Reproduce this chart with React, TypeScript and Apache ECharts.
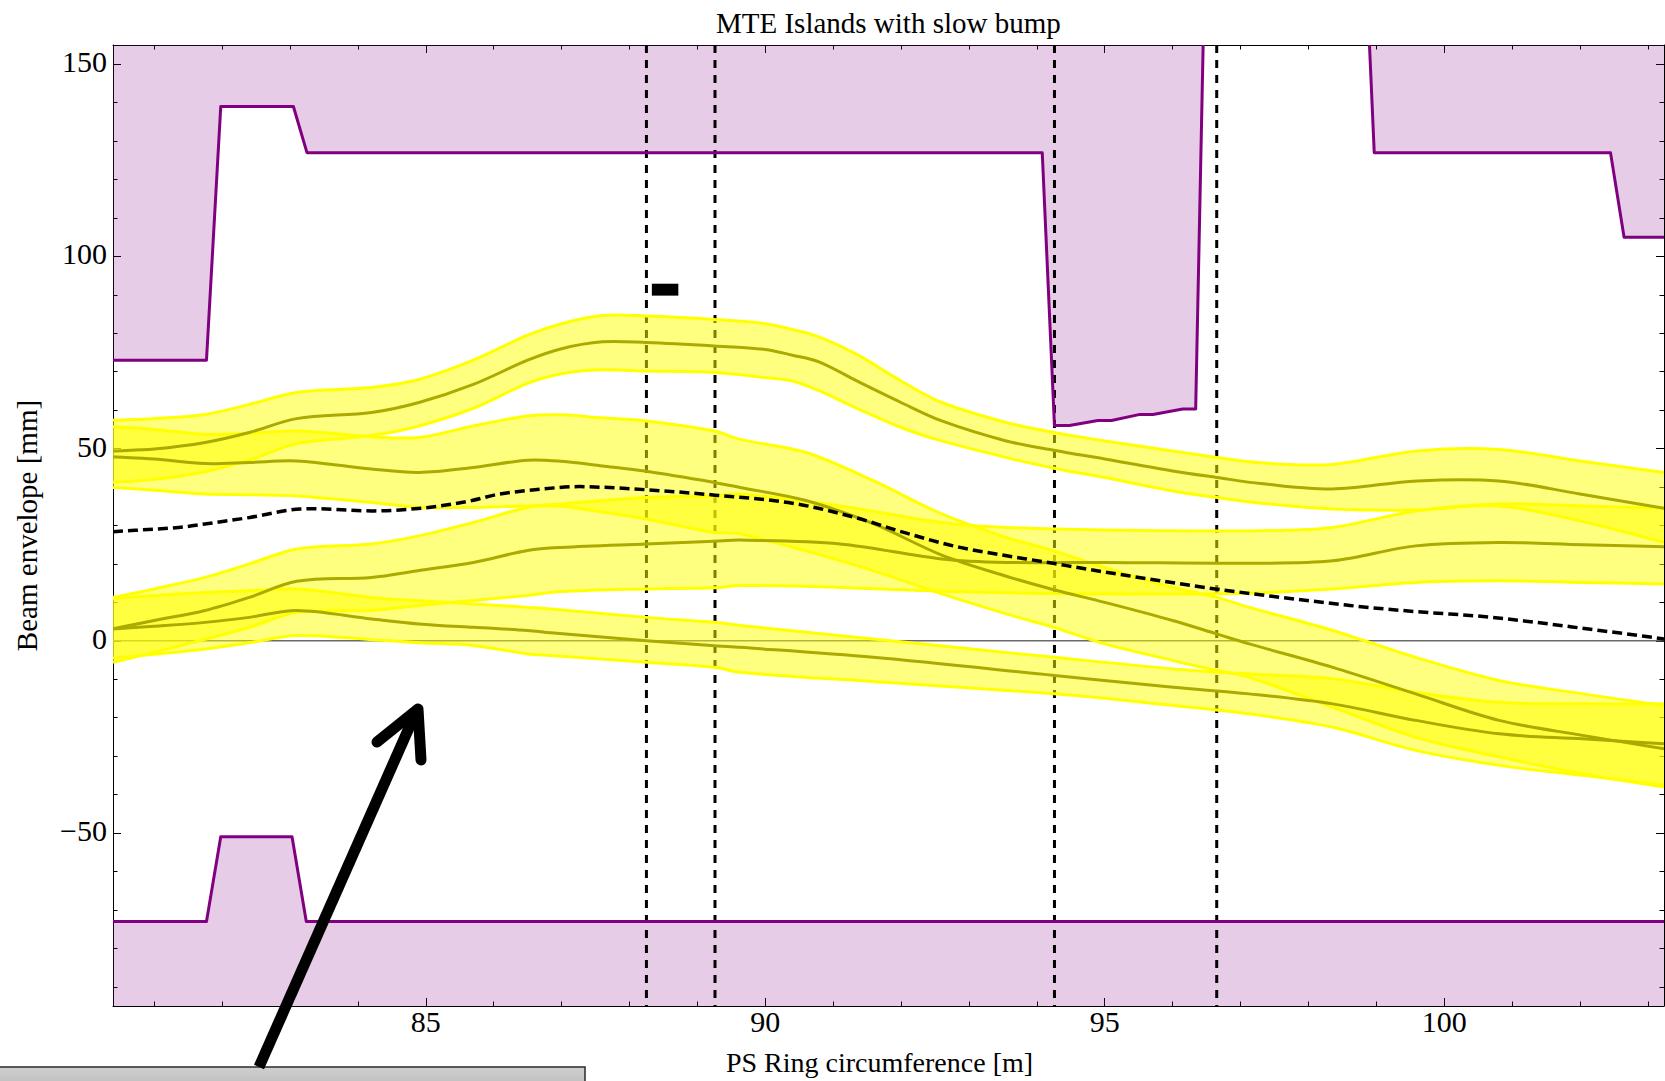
import React, { useEffect, useRef } from "react";
import * as echarts from "echarts";

// ---------- axes ----------
const X_MIN = 80.393;
const X_MAX = 103.238;
const Y_MIN = -95;
const Y_MAX = 155;
const xMajorTicks = [85, 90, 95, 100];
const xMinorTicks = [81, 82, 83, 84, 86, 87, 88, 89, 91, 92, 93, 94, 96, 97, 98, 99, 101, 102, 103];
const yMajorTicks = [-50, 0, 50, 100, 150];
const yMinorTicks = [-90, -80, -70, -60, -40, -30, -20, -10, 10, 20, 30, 40, 60, 70, 80, 90, 110, 120, 130, 140];

const titleText = "MTE Islands with slow bump";
const xName = "PS Ring circumference [m]";
const yName = "Beam envelope [mm]";

// ---------- aperture (purple) ----------
const apUpper1X = [80.393, 81.77, 81.98, 83.05, 83.25, 94.08, 94.26, 94.48, 94.9, 95.1, 95.52, 95.71, 96.15, 96.34, 96.45];
const apUpper1Y = [73, 73, 139, 139, 127, 127, 56, 56, 57.3, 57.3, 58.9, 58.9, 60.3, 60.3, 155];
const apUpper2X = [98.9, 98.97, 102.45, 102.65, 103.238];
const apUpper2Y = [155, 127, 127, 105, 105];
const apLowerX = [80.393, 81.77, 81.98, 83.03, 83.24, 103.238];
const apLowerY = [-73, -73, -51, -51, -73, -73];

// ---------- vertical dashed element markers ----------
const elementX = [88.25, 89.26, 94.26, 96.65];

// small black marker
const markerX = [88.33, 88.72];
const markerY = [89.8, 92.9];

// ---------- closed orbit (dashed) ----------
const orbitX = [80.393, 81.36, 81.75, 82.41, 83.15, 84.25, 85.04, 85.68, 86.09, 86.97, 87.35, 88.25, 89.26, 90.4, 91.3, 92.08, 92.87, 94.26, 95.07, 96.63, 98.61, 99.58, 100.71, 102.29, 103.238];
const orbitY = [28.4, 29.5, 30.4, 32.1, 34.3, 33.8, 34.7, 36.5, 38.2, 39.9, 40.1, 39.3, 37.9, 35.8, 32.2, 28.0, 24.3, 20.1, 17.7, 13.5, 9.2, 7.6, 6.1, 2.7, 0.5];

// ---------- beamlets ----------
const bandAX = [80.393, 81.0, 81.75, 82.4, 83.1, 84.2, 84.9, 85.7, 86.5, 87.0, 87.6, 88.25, 89.25, 90.0, 90.4, 90.8, 91.35, 92.0, 92.6, 93.55, 94.25, 95.0, 96.0, 96.65, 97.3, 98.35, 99.6, 100.8, 102.0, 103.238];
const bandALower = [41.2, 42.0, 44.0, 47.0, 51.3, 53.4, 55.9, 60.5, 67.0, 69.5, 70.5, 70.2, 69.8, 68.5, 67.6, 65.0, 60.5, 55.5, 52.0, 47.7, 44.9, 42.5, 39.0, 37.3, 35.8, 34.3, 34.0, 35.1, 31.2, 25.6];
const bandACenter = [49.4, 49.9, 51.6, 54.2, 57.8, 59.4, 62.0, 66.7, 73.0, 76.0, 77.8, 77.6, 76.7, 75.8, 74.3, 72.5, 67.6, 62.0, 57.2, 52.0, 49.6, 47.3, 44.2, 42.5, 40.9, 39.5, 41.6, 41.6, 38.2, 34.5];
const bandAUpper = [57.4, 57.8, 58.9, 61.5, 64.6, 65.9, 68.0, 73.0, 79.5, 82.5, 84.6, 84.5, 83.6, 82.5, 81.0, 79.0, 74.5, 67.6, 62.0, 56.8, 54.2, 52.0, 49.4, 47.7, 46.3, 45.9, 49.4, 49.8, 46.8, 43.8];

const bandBX = [80.393, 81.0, 81.75, 82.4, 83.1, 84.2, 84.9, 85.7, 86.5, 87.0, 87.6, 88.25, 89.25, 89.63, 90.6, 91.6, 92.6, 93.55, 94.25, 95.0, 96.0, 96.65, 97.13, 98.36, 99.58, 100.81, 102.04, 103.238];
const bandBLower = [39.9, 39.2, 38.2, 38.0, 37.7, 36.0, 34.7, 34.7, 35.1, 35.0, 33.5, 31.7, 28.2, 27.8, 23.4, 18.2, 12.2, 7.0, 3.5, -0.8, -5.1, -7.7, -9.5, -17.3, -25.1, -30.2, -34.6, -38.0];
const bandBCenter = [47.9, 47.3, 46.1, 46.4, 46.8, 44.7, 43.8, 45.1, 47.0, 46.7, 45.5, 44.1, 41.2, 39.9, 36.5, 30.4, 22.3, 16.8, 13.3, 10.0, 5.3, 1.8, -0.8, -6.9, -13.8, -20.7, -24.6, -28.1];
const bandBUpper = [55.7, 55.0, 53.7, 54.0, 54.6, 53.1, 52.9, 55.9, 58.5, 58.8, 58.0, 57.2, 54.6, 52.4, 49.0, 41.6, 33.0, 26.9, 23.4, 19.1, 13.9, 11.3, 8.7, 2.7, -4.3, -10.3, -13.8, -16.8];

const bandCX = [80.393, 81.0, 81.75, 82.4, 83.1, 84.2, 84.9, 85.7, 86.5, 87.0, 88.25, 89.25, 89.63, 91.1, 92.6, 93.55, 95.0, 97.13, 98.36, 99.58, 100.81, 102.04, 103.238];
const bandCLower = [-5.6, -3.0, 0.4, 3.5, 7.4, 7.9, 9.2, 10.5, 11.8, 12.8, 13.5, 13.8, 14.4, 13.9, 12.9, 12.5, 12.2, 12.4, 13.5, 15.2, 15.6, 15.2, 14.8];
const bandCCenter = [3.1, 5.3, 7.9, 11.3, 15.5, 16.5, 18.3, 20.4, 23.5, 24.3, 25.2, 25.9, 26.2, 25.2, 21.3, 20.4, 20.4, 20.2, 20.8, 24.7, 25.6, 25.0, 24.5];
const bandCUpper = [11.3, 13.5, 16.5, 20.0, 23.9, 25.2, 27.3, 30.8, 34.7, 35.6, 37.3, 37.7, 38.2, 35.1, 30.8, 29.5, 28.8, 28.6, 29.5, 33.8, 35.6, 35.1, 34.5];

const bandDX = [80.393, 81.0, 81.75, 82.4, 83.1, 84.2, 84.9, 85.7, 86.5, 86.84, 88.25, 89.25, 89.63, 91.59, 94.26, 96.01, 97.13, 98.36, 99.58, 100.81, 102.04, 103.238];
const bandDLower = [-4.5, -3.5, -2.1, -0.5, 1.4, 0.3, -0.5, -1.2, -3.4, -3.8, -5.6, -6.9, -8.2, -10.6, -13.8, -16.8, -19.0, -22.5, -28.5, -32.4, -35.0, -37.6];
const bandDCenter = [3.1, 3.8, 4.8, 6.1, 7.9, 5.7, 4.4, 3.5, 2.7, 2.1, 0.0, -1.3, -1.7, -4.3, -9.0, -12.1, -13.8, -16.4, -20.7, -24.2, -25.5, -26.8];
const bandDUpper = [11.0, 11.8, 12.6, 13.0, 13.5, 11.3, 10.4, 9.6, 8.7, 8.3, 6.1, 4.8, 4.0, 0.5, -4.3, -7.3, -8.6, -9.9, -13.4, -16.0, -16.4, -16.4];

// ---------- styles ----------
const FONT = "'Liberation Serif', 'Times New Roman', serif";
const PURPLE = "#800080";
const PURPLE_FILL = "rgba(128,0,128,0.2)";
const YELLOW = "#ffff00";
const YELLOW_FILL = "rgba(255,255,0,0.5)";
const OLIVE = "#aaaa00";

// Smooth (cubic Hermite, x-monotone) path through pixel points.
function smoothPath(pts: number[][], start: "M" | "L"): string {
  const n = pts.length;
  const slope = (i: number) => {
    const a = pts[Math.max(0, i - 1)];
    const b = pts[Math.min(n - 1, i + 1)];
    const dx = b[0] - a[0];
    return dx === 0 ? 0 : (b[1] - a[1]) / dx;
  };
  let d = `${start}${pts[0][0]},${pts[0][1]}`;
  for (let i = 0; i < n - 1; i++) {
    const p = pts[i];
    const q = pts[i + 1];
    const h = q[0] - p[0];
    const m0 = slope(i);
    const m1 = slope(i + 1);
    d += ` C${p[0] + h / 3},${p[1] + (m0 * h) / 3} ${q[0] - h / 3},${q[1] - (m1 * h) / 3} ${q[0]},${q[1]}`;
  }
  return d;
}

function straightPath(pts: number[][], start: "M" | "L"): string {
  return pts.map((p, i) => `${i === 0 ? start : "L"}${p[0]},${p[1]}`).join(" ");
}

function fillBetween(xs: number[], lower: number[], upper: number[], color: string, smooth: boolean) {
  return {
    type: "custom",
    silent: true,
    clip: true,
    data: [[xs[0], lower[0]]],
    renderItem: (_p: any, api: any) => {
      const up = xs.map((x, i) => api.coord([x, upper[i]]));
      const lo = xs.map((x, i) => api.coord([x, lower[i]])).reverse();
      const mk = smooth ? smoothPath : straightPath;
      const d = mk(up, "M") + " " + mk(lo, "L") + " Z";
      return { type: "path", shape: { pathData: d }, style: { fill: color, stroke: null } };
    },
  };
}

function curve(xs: number[], ys: number[], color: string, width: number, smooth: boolean, dash?: number[]) {
  return {
    type: "custom",
    silent: true,
    clip: true,
    data: [[xs[0], ys[0]]],
    renderItem: (_p: any, api: any) => {
      const pts = xs.map((x, i) => api.coord([x, ys[i]]));
      const d = smooth ? smoothPath(pts, "M") : straightPath(pts, "M");
      return {
        type: "path",
        shape: { pathData: d },
        style: { stroke: color, lineWidth: width, fill: null, lineDash: dash || null, lineJoin: "round" },
      };
    },
  };
}

function buildOption(): any {
  const series: any[] = [];
  // purple aperture fills
  series.push(fillBetween(apUpper1X, apUpper1Y, apUpper1X.map(() => Y_MAX), PURPLE_FILL, false));
  series.push(fillBetween(apUpper2X, apUpper2Y, apUpper2X.map(() => Y_MAX), PURPLE_FILL, false));
  series.push(fillBetween(apLowerX, apLowerX.map(() => Y_MIN), apLowerY, PURPLE_FILL, false));
  // vertical dashed element lines
  series.push({
    type: "custom",
    silent: true,
    data: elementX.map((x) => [x, 0]),
    renderItem: (_p: any, api: any) => {
      const x = api.value(0);
      const a = api.coord([x, Y_MAX]);
      const b = api.coord([x, Y_MIN]);
      return {
        type: "line",
        shape: { x1: a[0], y1: a[1], x2: b[0], y2: b[1] },
        style: { stroke: "#000", lineWidth: 3, lineDash: [8, 7] },
      };
    },
  });
  // aperture outlines
  series.push(curve(apUpper1X, apUpper1Y, PURPLE, 3, false));
  series.push(curve(apUpper2X, apUpper2Y, PURPLE, 3, false));
  series.push(curve(apLowerX, apLowerY, PURPLE, 3, false));
  // zero line
  series.push({
    type: "custom",
    silent: true,
    data: [[X_MIN, 0]],
    renderItem: (_p: any, api: any) => {
      const a = api.coord([X_MIN, 0]);
      const b = api.coord([X_MAX, 0]);
      return {
        type: "line",
        shape: { x1: a[0], y1: a[1], x2: b[0], y2: b[1] },
        style: { stroke: "#6a6a6a", lineWidth: 1.5 },
      };
    },
  });
  const bands = [
    [bandAX, bandALower, bandACenter, bandAUpper],
    [bandBX, bandBLower, bandBCenter, bandBUpper],
    [bandCX, bandCLower, bandCCenter, bandCUpper],
    [bandDX, bandDLower, bandDCenter, bandDUpper],
  ];
  bands.forEach((b) => series.push(fillBetween(b[0], b[1], b[3], YELLOW_FILL, true)));
  bands.forEach((b) => {
    series.push(curve(b[0], b[1], YELLOW, 3, true));
    series.push(curve(b[0], b[3], YELLOW, 3, true));
  });
  bands.forEach((b) => series.push(curve(b[0], b[2], OLIVE, 3, true)));
  // closed orbit
  series.push(curve(orbitX, orbitY, "#000", 3.5, true, [10, 5]));
  // black marker
  series.push({
    type: "custom",
    silent: true,
    data: [[markerX[0], markerY[0]]],
    renderItem: (_p: any, api: any) => {
      const a = api.coord([markerX[0], markerY[1]]);
      const b = api.coord([markerX[1], markerY[0]]);
      return {
        type: "rect",
        shape: { x: a[0], y: a[1], width: b[0] - a[0], height: b[1] - a[1] },
        style: { fill: "#000" },
      };
    },
  });

  const labelStyle = { fontFamily: FONT, fontSize: 30, color: "#000" };
  const minus = (v: number) => (v < 0 ? "\u2212" + Math.abs(v) : String(v));
  const frameLine = { show: true, onZero: false, lineStyle: { color: "#000", width: 1 } };
  const noLine = { show: false, onZero: false };
  const baseX = { type: "value", min: X_MIN, max: X_MAX, splitLine: { show: false } };
  const baseY = { type: "value", min: Y_MIN, max: Y_MAX, splitLine: { show: false } };
  const majorTick = (vals: number[]) => ({ show: true, inside: true, length: 8, customValues: vals, lineStyle: { color: "#000", width: 1 } });
  const minorTick = (vals: number[]) => ({ show: true, inside: true, length: 4.5, customValues: vals, lineStyle: { color: "#000", width: 1 } });

  return {
    animation: false,
    backgroundColor: "#ffffff",
    title: {
      text: titleText,
      left: 716,
      top: 8,
      padding: 0,
      textStyle: { fontFamily: FONT, fontSize: 29, fontWeight: "normal", color: "#000" },
    },
    grid: { left: 113, right: 1, top: 45, bottom: 75, containLabel: false, outerBoundsMode: "none" },
    xAxis: [
      {
        ...baseX,
        position: "bottom",
        axisLine: frameLine,
        axisTick: majorTick(xMajorTicks),
        axisLabel: { ...labelStyle, show: true, customValues: xMajorTicks, margin: 0 },
        name: xName,
        nameLocation: "middle",
        nameGap: 42,
        nameTextStyle: { fontFamily: FONT, fontSize: 28, color: "#000", padding: [0, 18, 0, 0] },
      },
      { ...baseX, position: "bottom", axisLine: noLine, axisTick: minorTick(xMinorTicks), axisLabel: { show: false } },
      { ...baseX, position: "top", axisLine: frameLine, axisTick: majorTick(xMajorTicks), axisLabel: { show: false } },
      { ...baseX, position: "top", axisLine: noLine, axisTick: minorTick(xMinorTicks), axisLabel: { show: false } },
    ],
    yAxis: [
      {
        ...baseY,
        position: "left",
        axisLine: frameLine,
        axisTick: majorTick(yMajorTicks),
        axisLabel: {
          ...labelStyle,
          show: true,
          customValues: yMajorTicks,
          margin: 6,
          formatter: minus,
          verticalAlign: "bottom",
          lineHeight: 5,
        },
        name: yName,
        nameLocation: "middle",
        nameGap: 72,
        nameRotate: 90,
        nameTextStyle: { fontFamily: FONT, fontSize: 29, color: "#000" },
      },
      { ...baseY, position: "left", axisLine: noLine, axisTick: minorTick(yMinorTicks), axisLabel: { show: false } },
      { ...baseY, position: "right", axisLine: frameLine, axisTick: majorTick(yMajorTicks), axisLabel: { show: false } },
      { ...baseY, position: "right", axisLine: noLine, axisTick: minorTick(yMinorTicks), axisLabel: { show: false } },
    ],
    series,
    graphic: [
      {
        type: "rect",
        z: 100,
        shape: { x: -4, y: 1067, width: 589, height: 30 },
        style: {
          fill: new echarts.graphic.LinearGradient(0, 0, 0, 1, [
            { offset: 0, color: "#cfcfcf" },
            { offset: 1, color: "#b4b4b4" },
          ]),
          stroke: "#2a2a2a",
          lineWidth: 1.5,
        },
      },
      {
        type: "polyline",
        z: 101,
        shape: { points: [[259, 1067], [416, 712]] },
        style: { stroke: "#000", lineWidth: 11, fill: null, lineCap: "butt" },
      },
      {
        type: "polyline",
        z: 101,
        shape: { points: [[377, 742], [418, 709], [421, 760]] },
        style: { stroke: "#000", lineWidth: 11, fill: null, lineCap: "round", lineJoin: "round" },
      },
    ],
  };
}

export default function App() {
  const ref = useRef<HTMLDivElement>(null);
  useEffect(() => {
    if (!ref.current) return;
    const chart = echarts.init(ref.current, null, { renderer: "svg" });
    chart.setOption(buildOption());
    return () => chart.dispose();
  }, []);
  return (
    <div
      ref={ref}
      style={{ position: "absolute", left: 0, top: 0, width: 1665, height: 1081, background: "#fff", overflow: "hidden" }}
    />
  );
}
